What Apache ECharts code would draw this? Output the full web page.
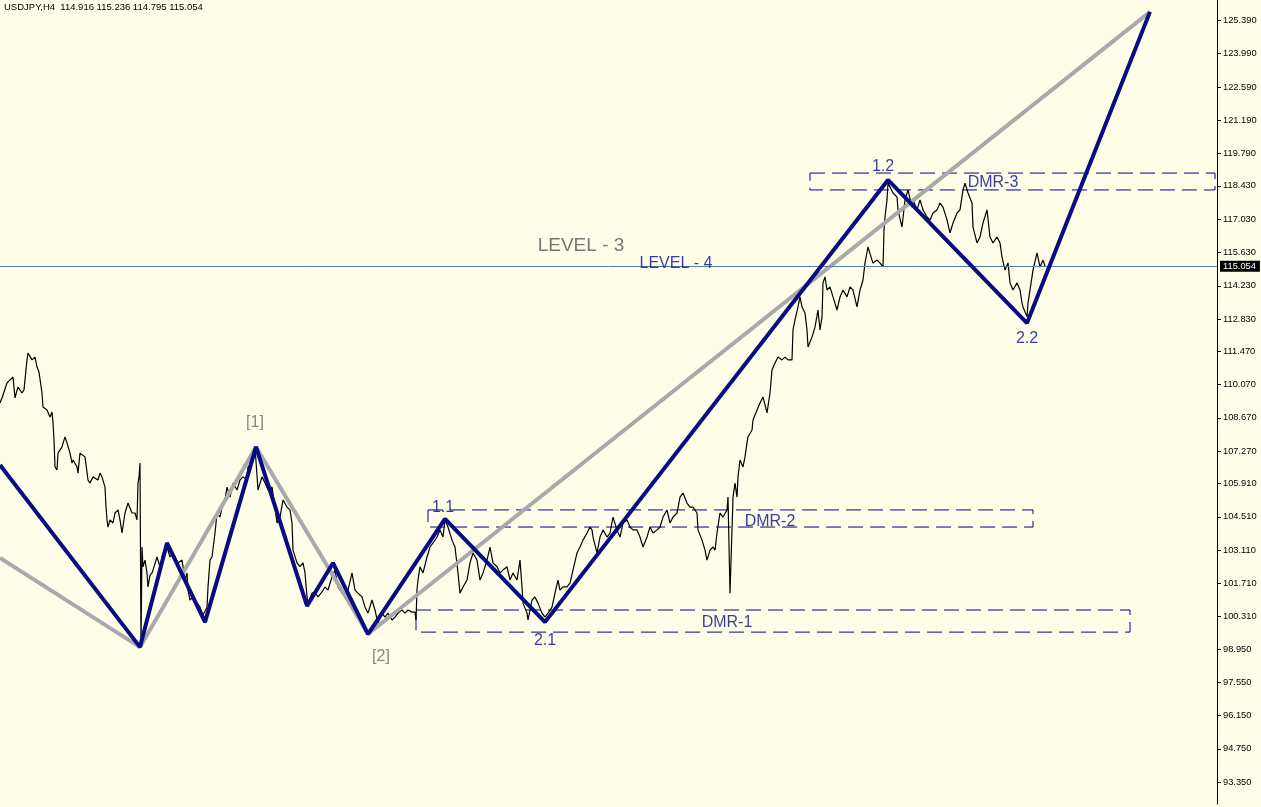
<!DOCTYPE html>
<html>
<head>
<meta charset="utf-8">
<script src="https://cdn.jsdelivr.net/npm/echarts@6/dist/echarts.min.js"></script>
<style>
html,body{margin:0;padding:0;background:#FEFEE8;}
#c{width:1261px;height:807px;}
</style>
</head>
<body>
<div id="c"></div>
<script>
// ---- data (bar index, price) ----
const headerText = 'USDJPY,H4  114.916 115.236 114.795 115.054';
const lastPrice = 115.054;
const tickValues = [125.390,123.990,122.590,121.190,119.790,118.430,117.030,115.630,114.230,112.830,111.470,110.070,108.670,107.270,105.910,104.510,103.110,101.710,100.310,98.950,97.550,96.150,94.750,93.350];

const priceBars = [
[0,109.30],[2,109.51],[7,110.14],[10,110.27],[13,110.39],[15,109.51],[18,109.97],[22,109.72],[24,109.85],[27,111.11],[28,111.40],[32,111.11],[35,111.23],[37,110.81],[39,110.60],[42,109.72],[43,109.13],[47,109.00],[50,108.71],[52,108.92],[53,108.46],[54,107.74],[55,106.61],[57,106.48],[58,107.19],[62,107.45],[65,107.87],[67,107.62],[70,107.19],[72,106.77],[73,106.90],[77,106.61],[78,106.35],[80,107.19],[85,107.03],[88,106.06],[90,105.93],[93,106.19],[98,106.06],[100,106.35],[102,106.19],[105,105.76],[106,104.92],[107,104.38],[108,104.08],[110,104.38],[113,104.25],[115,104.67],[118,104.80],[120,104.38],[122,103.83],[125,104.67],[128,105.09],[132,104.67],[135,104.67],[137,104.38],[138,105.93],[139,106.19],[140,106.77],
[141,99.03],[142,103.24],[143,102.41],[145,102.69],[147,102.15],[148,101.56],[150,102.06],[152,102.15],[153,102.27],[157,102.82],[160,102.41],[163,102.99],[165,102.90],[167,103.24],[170,102.82],[173,102.99],[178,102.57],[182,102.69],[185,101.85],[187,102.15],[188,101.43],[190,101.01],[193,101.14],[197,100.88],[200,100.71],[203,100.38],[207,100.71],[208,101.56],[210,102.69],[212,102.82],[215,103.83],[217,104.67],[220,104.50],[222,104.92],[225,105.22],[227,105.76],[230,105.34],[233,105.93],[237,105.64],[240,106.06],[243,106.19],[247,106.06],[248,106.61],[252,106.77],[255,107.45],[258,105.64],[262,106.19],[265,105.93],[268,105.64],[272,105.76],[275,104.92],[277,104.25],[280,104.50],[283,105.22],[287,104.92],[290,104.80],[292,104.25],[293,103.11],[297,102.57],[300,102.41],[303,102.57],[305,102.15],[307,101.14],[308,100.88],[312,101.30],[315,101.35],[318,101.14],[322,101.35],[325,101.56],[328,101.43],[332,101.98],[335,102.27],[338,101.56],[342,101.30],[345,101.14],[348,101.43],[352,102.15],[355,101.43],[358,101.30],[362,101.14],[365,100.71],[368,100.46],[372,101.01],[375,100.59],[378,100.04],[382,100.46],[385,100.29],[388,100.46],[392,100.17],[395,100.29],[398,100.46],[402,100.59],[405,100.46],[408,100.59],[412,100.50],[415,100.50],[416,100.17],[417,101.43],[418,101.85],[420,102.41],[423,102.15],[427,102.82],[430,103.24],[433,103.41],[437,103.66],[440,103.96],[443,103.66],[445,104.38],[448,104.08],[452,103.53],[455,103.24],[458,102.15],[460,101.30],[463,101.56],[467,101.85],[470,102.57],[473,102.99],[477,102.69],[480,101.85],[483,102.15],[487,102.69],[490,103.24],[493,102.57],[497,102.41],[500,102.15],[503,102.27],[507,102.41],[510,101.85],[513,102.15],[517,101.85],[520,102.69],[522,101.56],[523,100.88],[527,100.46],[528,100.17],[532,101.01],[535,101.14],[538,100.88],[542,100.46],[545,100.29],[548,100.46],[552,100.71],[555,101.30],[558,101.85],[560,101.43],[563,101.56],[567,101.56],[570,101.72],[573,102.27],[577,102.99],[580,103.24],[583,103.53],[587,103.83],[590,104.08],[592,103.96],[593,103.66],[597,102.99],[600,103.66],[603,103.96],[607,103.66],[610,103.83],[613,104.50],[617,103.96],[620,103.66],[623,104.25],[627,104.38],[630,104.08],[633,103.96],[637,103.96],[640,103.66],[643,103.24],[647,103.66],[650,104.08],[653,103.83],[657,103.96],[660,104.08],[663,104.50],[667,104.80],[670,104.25],[673,104.50],[677,104.67],[680,105.34],[683,105.51],[687,105.09],[690,104.92],[693,104.92],[697,104.67],[698,103.96],[702,103.53],[705,103.11],[707,102.69],[710,103.11],[713,103.24],[715,103.11],[717,103.83],[720,104.67],[723,104.50],[727,104.80],[728,105.34],[730,101.30],[731,101.22],[732,103.96],[733,105.34],[735,105.93],[737,105.34],[738,106.19],[740,106.90],[743,106.61],[745,107.03],[747,107.62],[748,107.87],[752,108.16],[753,108.58],[757,109.00],[760,109.30],[763,109.55],[767,108.88],[770,109.72],[772,110.69],[775,110.98],[778,111.23],[782,111.11],[785,111.23],[788,111.11],[792,111.11],[793,112.37],[795,112.79],[798,113.34],[800,113.76],[802,113.34],[805,113.08],[807,112.37],[808,111.65],[812,112.07],[815,112.49],[818,113.21],[820,112.37],[822,112.92],[823,114.35],[825,114.60],[827,114.05],[830,114.18],[833,113.76],[837,113.21],[840,113.76],[843,114.05],[847,113.76],[850,114.18],[853,114.05],[857,113.34],[860,114.05],[863,114.47],[865,115.19],[868,115.86],[872,115.31],[873,115.19],[877,115.31],[880,115.19],[883,115.02],[884,116.58],[885,117.12],[887,117.84],[888,118.55],[890,118.60],[893,118.13],[897,117.96],[898,117.42],[902,116.70],[905,117.84],[908,118.26],[912,117.54],[913,117.84],[917,117.42],[920,117.84],[923,117.42],[927,117.12],[930,117.00],[933,117.29],[937,117.42],[940,117.71],[943,117.54],[947,117.00],[950,116.45],[953,116.87],[957,117.29],[960,117.42],[963,118.26],[965,118.55],[968,118.13],[972,117.71],[973,116.70],[977,116.03],[980,116.28],[983,116.87],[987,117.42],[990,116.28],[993,116.03],[997,116.28],[1000,116.03],[1002,115.44],[1005,114.89],[1008,115.19],[1010,114.35],[1013,114.05],[1017,114.35],[1020,114.05],[1022,113.50],[1023,113.34],[1027,112.92],[1028,113.50],[1032,114.60],[1033,114.89],[1037,115.61],[1040,115.02],[1043,115.31],[1045,115.06]
];

// wave lines
const waveBars  = [0, 140, 167, 205, 256, 307, 333, 368, 445, 545, 888, 1027, 1150];
const waveBlue  = [106.69, 99.03, 103.41, 100.08, 107.45, 100.76, 102.57, 99.58, 104.42, 100.08, 118.68, 112.66, 125.75];
const grayBars  = [0, 140, 256, 368, 1150];
const grayVals  = [102.78, 99.03, 107.45, 99.58, 125.75];

// DMR zones
const boxNames  = ['DMR-1', 'DMR-2', 'DMR-3'];
const boxFrom   = [416, 428, 810];
const boxTo     = [1130, 1033, 1215];
const boxTop    = [100.59, 104.80, 118.97];
const boxBottom = [99.66, 104.08, 118.26];

// text labels
const labelText  = ['[1]', '[2]', '1.1', '2.1', '1.2', '2.2', 'LEVEL - 3', 'LEVEL - 4', 'DMR-1', 'DMR-2', 'DMR-3'];
const labelBar   = [255, 381, 443, 545, 883, 1027, 581, 676, 727, 770, 993];
const labelPrice = [108.46, 98.61, 104.88, 99.29, 119.23, 111.99, 115.90, 115.15, 100.08, 104.33, 118.55];

// ---- chart ----
const FONT = "'Liberation Sans', Arial, sans-serif";
const NAVY = '#0a0a84';
const LABEL_NAVY = '#0a0a8c';

function labelStyle(t) {
  if (t === 'LEVEL - 3') return {color: '#555555', fontSize: 19};
  if (t.charAt(0) === '[') return {color: '#666666', fontSize: 16};
  if (t === 'LEVEL - 4') return {color: '#0808a8', fontSize: 16};
  return {color: LABEL_NAVY, fontSize: 16};
}

const chart = echarts.init(document.getElementById('c'), null, {renderer: 'canvas'});
chart.setOption({
  backgroundColor: '#FEFEE8',
  animation: false,
  grid: {left: 0, right: 44, top: 0, bottom: 3},
  xAxis: {type: 'value', min: 0, max: 1217, show: false},
  yAxis: {
    type: 'value', position: 'right', min: 92.43, max: 126.25, scale: true,
    axisLine: {show: true, onZero: false, lineStyle: {color: '#000', width: 1}},
    axisTick: {show: true, length: 4, customValues: tickValues, lineStyle: {color: '#000'}},
    axisLabel: {show: true, margin: 6, customValues: tickValues, color: '#000', fontFamily: FONT, fontSize: 9.3,
      formatter: v => v.toFixed(3)},
    splitLine: {show: false}
  },
  graphic: [{
    type: 'text', left: 4, top: 2,
    style: {text: headerText, font: "9.5px 'Liberation Sans', Arial", fill: '#000'}
  }],
  series: [
    {
      name: 'price', type: 'line', data: priceBars, showSymbol: false, symbol: 'none',
      lineStyle: {color: '#000', width: 1.2}, z: 2
    },
    {
      name: 'level', type: 'line', data: [], clip: false, z: 3,
      markLine: {
        silent: true, symbol: 'none', animation: false,
        lineStyle: {color: '#5a7aa2', width: 1, type: 'solid'},
        label: {show: true, position: 'end', distance: 3, formatter: lastPrice.toFixed(3),
          backgroundColor: '#000', color: '#fff', fontFamily: FONT, fontSize: 9.3, padding: [1, 4, 1, 3]},
        data: [{yAxis: lastPrice}]
      }
    },
    {
      name: 'zones', type: 'line', data: [], z: 3,
      markArea: {
        silent: true,
        itemStyle: {color: 'rgba(0,0,0,0)', borderColor: '#000088', borderWidth: 1, borderType: [15, 7]},
        label: {show: false},
        data: boxNames.map((n, i) => [{name: n, coord: [boxFrom[i], boxTop[i]]}, {coord: [boxTo[i], boxBottom[i]]}])
      }
    },
    {
      name: 'gray', type: 'line', data: grayBars.map((b, i) => [b, grayVals[i]]), symbol: 'none',
      lineStyle: {color: '#a9a9a9', width: 4}, z: 4
    },
    {
      name: 'waves', type: 'line', data: waveBars.map((b, i) => [b, waveBlue[i]]), symbol: 'none',
      lineStyle: {color: NAVY, width: 4}, z: 5
    },
    {
      name: 'labels', type: 'scatter', symbolSize: 0, z: 6, silent: true,
      data: labelText.map((t, i) => {
        const s = labelStyle(t);
        return {value: [labelBar[i], labelPrice[i]], label: {show: true, position: 'inside', formatter: t,
          color: s.color, fontSize: s.fontSize, fontFamily: FONT}};
      })
    }
  ]
});
</script>
</body>
</html>
